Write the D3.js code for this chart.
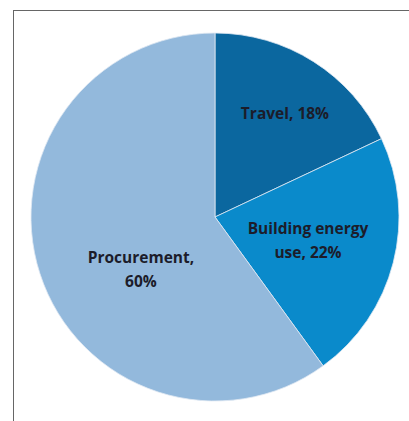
<!DOCTYPE html>
<html>
<head>
<meta charset="utf-8">
<script src="https://cdn.jsdelivr.net/npm/d3@7"></script>
<style>
  body { margin: 0; background: #fff; }
</style>
</head>
<body>
<div id="chart"></div>
<script>
// data
var categories = ["Travel", "Building energy use", "Procurement"];
var shares = [18, 22, 60];
var labelLines = [["Travel, 18%"], ["Building energy", "use, 22%"], ["Procurement,", "60%"]];

var width = 409;
var height = 421;
var cx = 215;
var cy = 217;
var r = 184;
var font = "'Open Sans', 'Liberation Sans', sans-serif";

var color = d3.scaleOrdinal()
  .domain(categories)
  .range(["#0b679f", "#0a8acb", "#93b9dc"]);

var svg = d3.select("#chart")
  .append("svg")
  .attr("width", width)
  .attr("height", height);

// frame
svg.append("rect")
  .attr("x", 13.5)
  .attr("y", 10.5)
  .attr("width", 420)
  .attr("height", 430)
  .style("fill", "none")
  .style("stroke", "#666")
  .style("stroke-width", 1);

var pie = d3.pie().sort(null);
var arc = d3.arc().innerRadius(0).outerRadius(r);

var g = svg.append("g")
  .attr("transform", "translate(" + cx + "," + cy + ")");

var arcs = g.selectAll(".arc")
  .data(pie(shares))
  .enter()
  .append("g")
  .attr("class", "arc");

arcs.append("path")
  .attr("fill", function(d, i) { return color(categories[i]); })
  .attr("stroke", "#dfe9f3")
  .attr("stroke-width", 0.8)
  .attr("d", arc);

// labels: centroid on an arc per slice, then nudged like Excel does
var labelR = [125, 96, 80];
var nudge = [[3, 3], [0, 0], [2, 28]];

arcs.append("text")
  .attr("transform", function(d, i) {
    var c = d3.arc().innerRadius(labelR[i]).outerRadius(labelR[i]).centroid(d);
    return "translate(" + (c[0] + nudge[i][0]) + "," + (c[1] + nudge[i][1]) + ")";
  })
  .style("font-family", font)
  .style("font-size", "15.5px")
  .style("font-weight", "bold")
  .style("fill", "#1c1c2a")
  .attr("text-anchor", "middle")
  .each(function(d, i) {
    var lines = labelLines[i];
    var t = d3.select(this);
    lines.forEach(function(line, j) {
      t.append("tspan")
        .attr("x", 0)
        .attr("y", (j - (lines.length - 1) / 2) * 24 + 5)
        .text(line);
    });
  });
</script>
</body>
</html>
